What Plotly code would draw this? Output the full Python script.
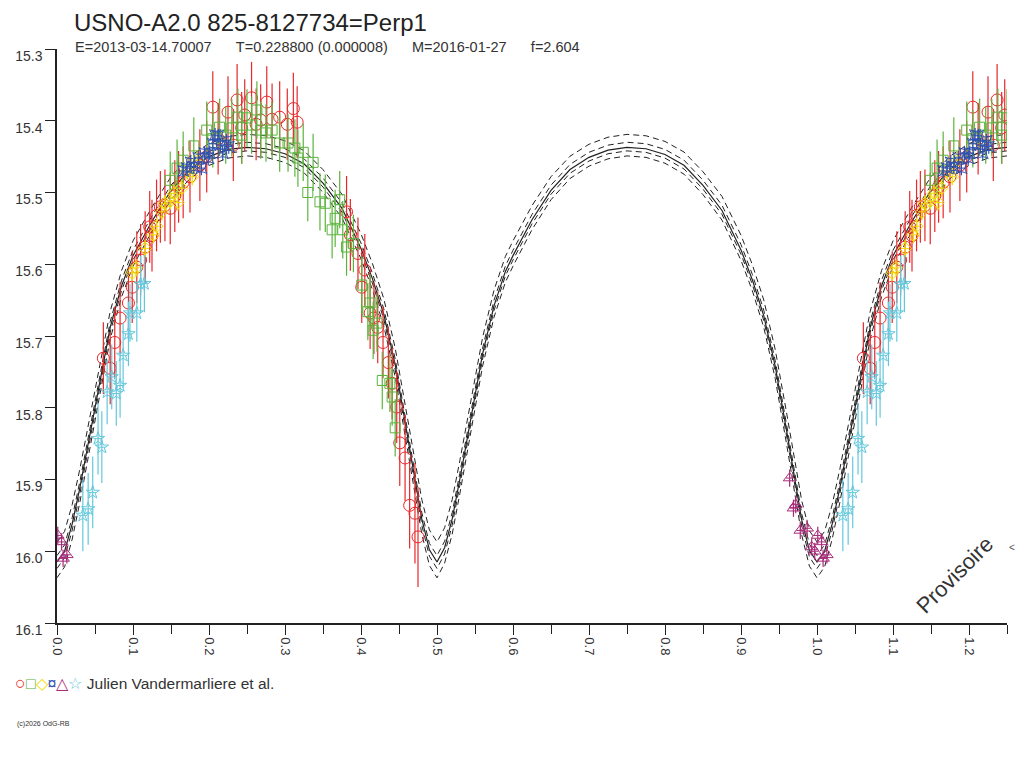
import plotly.graph_objects as go

# --- model light curve, one cycle (phase, mag)
model_phase = [0.000, 0.010, 0.020, 0.030, 0.040, 0.055, 0.070, 0.085, 0.100, 0.125,
               0.150, 0.175, 0.200, 0.225, 0.250, 0.275, 0.300, 0.325, 0.350, 0.375,
               0.400, 0.415, 0.430, 0.445, 0.460, 0.470, 0.480, 0.490, 0.500, 0.510,
               0.520, 0.530, 0.545, 0.560, 0.575, 0.590, 0.600, 0.625, 0.650, 0.675,
               0.700, 0.725, 0.750, 0.775, 0.800, 0.825, 0.850, 0.875, 0.900, 0.915,
               0.930, 0.945, 0.960, 0.970, 0.980, 0.990, 1.000]
model_mag = [16.015, 16.000, 15.962, 15.912, 15.856, 15.770, 15.688, 15.630, 15.588, 15.540,
             15.497, 15.468, 15.450, 15.440, 15.437, 15.439, 15.446, 15.460, 15.487, 15.522,
             15.578, 15.620, 15.670, 15.740, 15.830, 15.895, 15.955, 15.998, 16.015, 15.995,
             15.955, 15.900, 15.815, 15.725, 15.658, 15.610, 15.588, 15.538, 15.497, 15.468,
             15.451, 15.441, 15.437, 15.439, 15.447, 15.462, 15.490, 15.525, 15.580, 15.622,
             15.672, 15.742, 15.832, 15.897, 15.957, 15.999, 16.015]

# dashed envelope curves: offset at maximum light / at minimum light
env_off_max = [-0.018, -0.007, 0.005, 0.012]
env_off_min = [-0.028, -0.009, 0.009, 0.022]

# --- observations (phase, mag, error)
red_phase = [0.061, 0.070, 0.076, 0.083, 0.094, 0.099, 0.105, 0.110, 0.116, 0.122,
             0.125, 0.131, 0.136, 0.142, 0.149, 0.155, 0.160, 0.166, 0.175, 0.188,
             0.197, 0.205, 0.212, 0.225, 0.232, 0.237, 0.243, 0.247, 0.256, 0.262,
             0.268, 0.276, 0.283, 0.293, 0.303, 0.311, 0.316, 0.381, 0.386, 0.396,
             0.401, 0.405, 0.412, 0.417, 0.422, 0.429, 0.436, 0.441, 0.447, 0.451,
             0.458, 0.464, 0.471, 0.475]
red_mag = [15.731, 15.745, 15.709, 15.675, 15.654, 15.632, 15.604, 15.594, 15.576, 15.548,
           15.560, 15.532, 15.520, 15.518, 15.522, 15.505, 15.492, 15.486, 15.478, 15.462,
           15.450, 15.381, 15.425, 15.388, 15.434, 15.371, 15.410, 15.392, 15.368, 15.405,
           15.399, 15.374, 15.398, 15.395, 15.405, 15.383, 15.402, 15.527, 15.559, 15.585,
           15.632, 15.608, 15.668, 15.675, 15.688, 15.709, 15.737, 15.766, 15.799, 15.849,
           15.870, 15.936, 15.947, 15.980]
red_err = [0.05] * 49 + [0.06, 0.06, 0.06, 0.07, 0.07]

green_phase = [0.149, 0.158, 0.166, 0.180, 0.197, 0.205, 0.214, 0.222, 0.230, 0.238,
               0.243, 0.250, 0.256, 0.263, 0.268, 0.275, 0.283, 0.293, 0.304, 0.313,
               0.317, 0.324, 0.330, 0.337, 0.346, 0.353, 0.362, 0.366, 0.372, 0.376,
               0.381, 0.390, 0.401, 0.409, 0.412, 0.416, 0.421, 0.428, 0.438, 0.441,
               0.445]
green_mag = [15.483, 15.466, 15.455, 15.435, 15.413, 15.425, 15.409, 15.420, 15.410, 15.395,
             15.420, 15.396, 15.406, 15.385, 15.413, 15.417, 15.413, 15.431, 15.431, 15.438,
             15.452, 15.444, 15.500, 15.458, 15.513, 15.515, 15.552, 15.536, 15.510, 15.552,
             15.576, 15.571, 15.629, 15.666, 15.654, 15.692, 15.682, 15.762, 15.766, 15.785,
             15.828]
green_err = [0.04] * 41

yellow_phase = [0.099, 0.104, 0.116, 0.127, 0.131, 0.138, 0.142, 0.149, 0.154, 0.159,
                0.164, 0.171, 0.178, 0.185]
yellow_mag = [15.612, 15.605, 15.578, 15.559, 15.547, 15.527, 15.515, 15.512, 15.501, 15.514,
              15.494, 15.470, 15.478, 15.455]
yellow_err = [0.012] * 14

blue_phase = [0.166, 0.171, 0.176, 0.180, 0.186, 0.190, 0.194, 0.199, 0.201, 0.205,
              0.208, 0.212, 0.215, 0.218, 0.223, 0.226]
blue_mag = [15.470, 15.466, 15.458, 15.464, 15.452, 15.466, 15.445, 15.452, 15.445, 15.432,
            15.420, 15.421, 15.434, 15.445, 15.428, 15.436]
blue_err = [0.01] * 16

magenta_phase = [0.964, 0.969, 0.972, 0.978, 0.987, 0.993, 0.997, 0.001, 0.006, 0.008, 0.013]
magenta_mag = [15.898, 15.940, 15.935, 15.971, 15.968, 15.994, 16.000, 15.978, 15.987, 16.010, 16.005]
magenta_err = [0.012] * 11

cyan_phase = [0.034, 0.041, 0.047, 0.054, 0.059, 0.066, 0.072, 0.078, 0.083, 0.087,
              0.094, 0.096, 0.105, 0.110, 0.115]
cyan_mag = [15.950, 15.941, 15.918, 15.843, 15.855, 15.778, 15.757, 15.780, 15.769, 15.727,
            15.697, 15.668, 15.668, 15.628, 15.627]
cyan_err = [0.05] * 5 + [0.045] * 6 + [0.04] * 4

X_MAX = 1.25
FONT = "Liberation Sans, Arial, sans-serif"


def extend(phase, *cols):
    # repeat the start of the cycle after phase 1, as on the original plot
    out = [list(phase)] + [list(c) for c in cols]
    for i, p in enumerate(phase):
        if p + 1 <= X_MAX:
            out[0].append(p + 1)
            for k, c in enumerate(cols):
                out[k + 1].append(c[i])
    return out


fig = go.Figure()

# model curves
mx, mm = extend(model_phase[:-1], model_mag[:-1])
order = sorted(range(len(mx)), key=lambda i: mx[i])
mx = [mx[i] for i in order]
mm = [mm[i] for i in order]
top, bot = min(model_mag), max(model_mag)
for o_max, o_min in zip(env_off_max, env_off_min):
    ys = [m + o_max + (o_min - o_max) * (m - top) / (bot - top) for m in mm]
    fig.add_trace(go.Scatter(x=mx, y=ys, mode="lines",
                             line=dict(color="#222222", width=1, dash="6px,4px"),
                             hoverinfo="skip"))
fig.add_trace(go.Scatter(x=mx, y=mm, mode="lines",
                         line=dict(color="#222222", width=1.2), hoverinfo="skip"))

# (phase, mag, err, colour, symbol, size, horizontal bar)
series = [
    (red_phase, red_mag, red_err, "#e8282a", "circle-open", 12, 0),
    (green_phase, green_mag, green_err, "#5ab43c", "square-open", 10, 0),
    (yellow_phase, yellow_mag, yellow_err, "#f0e000", "diamond-open", 10, 0.005),
    (blue_phase, blue_mag, blue_err, "#3050b0", "star-square-open", 10, 0.005),
    (magenta_phase, magenta_mag, magenta_err, "#aa2a7a", "triangle-up-open", 11, 0.005),
    (cyan_phase, cyan_mag, cyan_err, "#64c8dc", "star-open", 10, 0.005),
]
for ph, mg, er, col, sym, sz, xe in series:
    x, y, e = extend(ph, mg, er)
    fig.add_trace(go.Scatter(
        x=x, y=y, mode="markers",
        marker=dict(symbol=sym, size=sz, color=col, line=dict(color=col, width=1)),
        error_y=dict(type="data", array=e, color=col, thickness=1.2, width=0),
        error_x=dict(type="constant", value=xe, color=col, thickness=1, width=0,
                     visible=xe > 0),
    ))

y_ticks = [15.3, 15.4, 15.5, 15.6, 15.7, 15.8, 15.9, 16.0, 16.1]

# the page body has an 8px margin, so the figure is 8px smaller and margins shifted
fig.update_layout(
    width=1016, height=760,
    margin=dict(l=49, r=17, t=41, b=145),
    paper_bgcolor="white", plot_bgcolor="white",
    showlegend=False,
    font=dict(family=FONT, color="#333333", size=13),
    xaxis=dict(range=[0, X_MAX], showgrid=False, zeroline=False, automargin=False,
               showline=True, linecolor="#222222", linewidth=1.5,
               tick0=0, dtick=0.1, tickformat=".1f", tickangle=90,
               ticks="outside", ticklen=10, tickcolor="#222222",
               minor=dict(dtick=0.05, ticks="outside", ticklen=9, tickcolor="#222222"),
               tickfont=dict(size=13, color="#333333")),
    yaxis=dict(range=[16.1, 15.3], showgrid=False, zeroline=False, automargin=False,
               showline=True, linecolor="#222222", linewidth=1.5,
               tickvals=y_ticks, ticktext=["%.1f" % v for v in y_ticks],
               ticks="outside", ticklen=10, tickcolor="#222222",
               ticklabelshift=-7, ticklabelstandoff=0,
               tickfont=dict(size=14, color="#333333")),
)

fig.add_annotation(text="USNO-A2.0 825-8127734=Perp1", xref="paper", yref="paper",
                   x=(73 - 57) / 950, y=(623 - 8) / 574, xanchor="left", yanchor="top",
                   borderpad=0,
                   showarrow=False, font=dict(size=24, color="#222222", family=FONT))
gap = "&nbsp;" * 6
fig.add_annotation(text="E=2013-03-14.70007" + gap + "T=0.228800 (0.000008)" + gap
                        + "M=2016-01-27" + gap + "f=2.604",
                   xref="paper", yref="paper",
                   x=(73 - 57) / 950, y=(623 - 47) / 574, xanchor="left", yanchor="middle",
                   showarrow=False, font=dict(size=14.5, color="#333333", family=FONT))
fig.add_annotation(text="Provisoire", x=1.182, y=16.033, textangle=-45,
                   showarrow=False, font=dict(size=22, color="#333333", family=FONT))
fig.add_annotation(text="<", xref="paper", x=1.005, y=15.995, xanchor="center",
                   showarrow=False, font=dict(size=10, color="#555555", family=FONT))

legend_txt = ("<span style='color:#e8282a;font-size:18px'>○</span>"
              "<span style='color:#5ab43c;font-size:16px'>□</span>"
              "<span style='color:#f0e000;font-size:16px'>◇</span>"
              "<span style='color:#3050b0;font-size:16px'>¤</span>"
              "<span style='color:#aa2a7a;font-size:16px'>△</span>"
              "<span style='color:#64c8dc;font-size:16px'>☆</span>"
              " Julien Vandermarliere et al.")
fig.add_annotation(text=legend_txt, xref="paper", yref="paper",
                   x=(13 - 57) / 950, y=(623 - 683) / 574, xanchor="left", yanchor="middle",
                   showarrow=False, font=dict(size=15.5, color="#333333", family=FONT))
fig.add_annotation(text="(c)2026 OdG-RB", xref="paper", yref="paper",
                   x=(15 - 57) / 950, y=(623 - 724) / 574, xanchor="left", yanchor="middle",
                   showarrow=False, font=dict(size=7, color="#333333", family=FONT))

fig.write_html("out.html")
